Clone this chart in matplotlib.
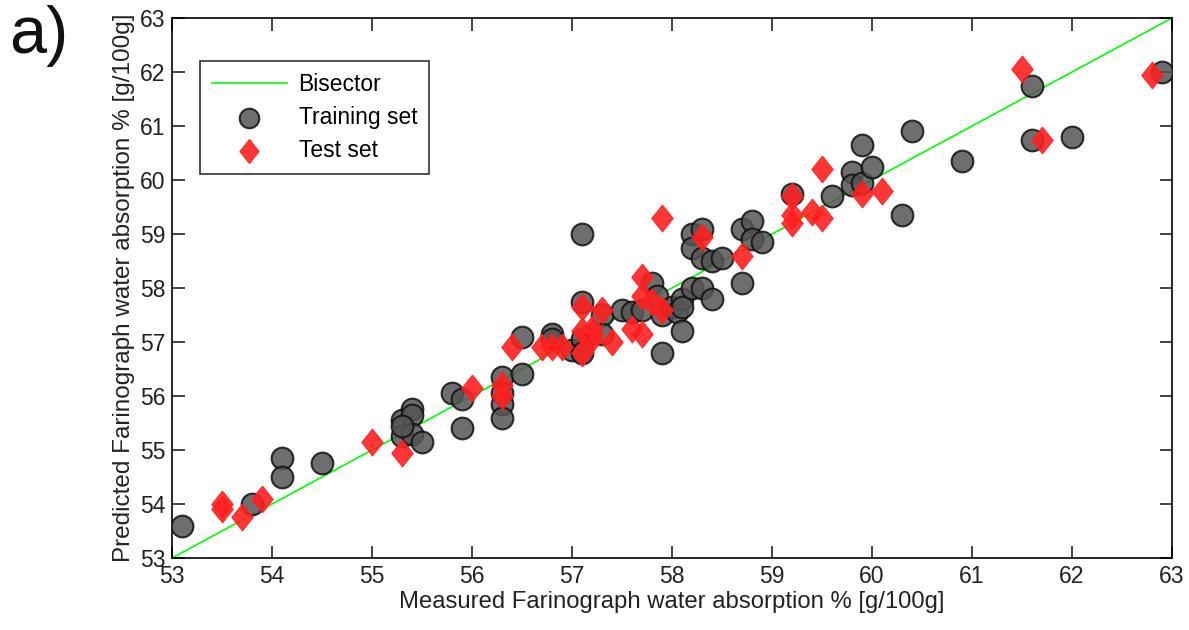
"""Measured vs predicted Farinograph water absorption (panel a)."""

import matplotlib

matplotlib.use("Agg")
import matplotlib.pyplot as plt

# Training set (measured, predicted)
train_measured = [
    53.1, 53.8, 54.1, 54.1, 54.5,
    55.3, 55.3, 55.4, 55.4, 55.4, 55.5, 55.3,
    55.8, 55.9, 55.9,
    56.3, 56.3, 56.3, 56.3,
    56.5, 56.5,
    56.8, 56.8,
    57.0,
    57.1, 57.1, 57.1, 57.1,
    57.3, 57.3,
    57.5, 57.6, 57.7,
    57.8, 57.85, 57.9, 58.0, 58.05, 57.9,
    58.1, 58.1, 58.1,
    58.2, 58.3, 58.2, 58.3, 58.4, 58.5,
    58.2, 58.3, 58.4,
    58.7, 58.8, 58.8, 58.9, 58.7,
    59.2, 59.6,
    59.8, 59.8, 59.9, 59.9, 60.0,
    60.3, 60.4, 60.9,
    61.6, 61.6, 62.0, 62.9,
]
train_predicted = [
    53.6, 54.0, 54.85, 54.5, 54.75,
    55.55, 55.25, 55.75, 55.65, 55.3, 55.15, 55.45,
    56.05, 55.95, 55.4,
    56.35, 56.05, 55.85, 55.6,
    57.1, 56.4,
    57.15, 57.05,
    56.85,
    59.0, 57.75, 57.05, 56.8,
    57.5, 57.15,
    57.6, 57.55, 57.6,
    58.1, 57.85, 57.5, 57.65, 57.55, 56.8,
    57.8, 57.65, 57.2,
    59.0, 59.1, 58.75, 58.55, 58.5, 58.55,
    58.0, 58.0, 57.8,
    59.1, 59.25, 58.9, 58.85, 58.1,
    59.75, 59.7,
    60.15, 59.9, 59.95, 60.65, 60.25,
    59.35, 60.9, 60.35,
    61.75, 60.75, 60.8, 62.0,
]

# Test set (measured, predicted)
test_measured = [
    53.5, 53.5, 53.7, 53.9,
    55.0, 55.3,
    56.0, 56.3, 56.3,
    56.4, 56.7, 56.8, 56.9,
    57.1, 57.3, 57.1, 57.2, 57.2, 57.2, 57.1, 57.4,
    57.6, 57.7,
    57.7, 57.7, 57.8, 57.9,
    57.9, 58.3, 58.7,
    59.2, 59.2, 59.2, 59.4, 59.5, 59.5,
    59.9, 60.1,
    61.5, 61.7, 62.8,
]
test_predicted = [
    54.0, 53.9, 53.75, 54.1,
    55.15, 54.95,
    56.15, 56.2, 56.0,
    56.9, 56.9, 56.9, 56.9,
    57.65, 57.6, 57.2, 57.25, 57.15, 57.05, 56.8, 57.0,
    57.25, 57.15,
    58.2, 57.85, 57.75, 57.6,
    59.3, 58.95, 58.6,
    59.7, 59.35, 59.2, 59.4, 59.3, 60.2,
    59.75, 59.8,
    62.05, 60.75, 61.95,
]

bisector = [53, 63]
ticks = list(range(53, 64))

FONT = ["Liberation Sans", "DejaVu Sans"]
TEXT_COLOR = "#222222"

# diamond a little wider than matplotlib's thin 'd'
DIAMOND = [(0, 1), (0.8, 0), (0, -1), (-0.8, 0), (0, 1)]


def main() -> None:
    plt.rcParams.update(
        {
            "font.family": FONT,
            "font.size": 16,
            "axes.linewidth": 1.2,
        }
    )

    fig = plt.figure(figsize=(11.89, 6.3), dpi=100)
    ax = fig.add_axes([0.1447, 0.1143, 0.8410, 0.8571])

    ax.plot(bisector, bisector, color="#00ff00", linewidth=1.2, label="Bisector", zorder=2)
    ax.scatter(
        train_measured,
        train_predicted,
        s=245,
        marker="o",
        facecolor="#555555",
        edgecolor="#111111",
        linewidth=1.5,
        alpha=0.85,
        label="Training set",
        zorder=3,
    )
    ax.scatter(
        test_measured,
        test_predicted,
        s=370,
        marker=DIAMOND,
        facecolor="#ff2020",
        edgecolor="#ff2020",
        linewidth=0.8,
        alpha=0.9,
        label="Test set",
        zorder=4,
    )

    ax.set_xlim(53, 63)
    ax.set_ylim(53, 63)
    ax.set_xticks(ticks)
    ax.set_yticks(ticks)
    ax.tick_params(
        direction="in", length=9, width=1.2, top=True, right=True,
        labelsize=16.5, pad=5, colors=TEXT_COLOR,
    )
    ax.set_xlabel("Measured Farinograph water absorption % [g/100g]",
                  fontsize=17.2, color=TEXT_COLOR, labelpad=2)
    ax.set_ylabel("Predicted Farinograph water absorption % [g/100g]",
                  fontsize=17.5, color=TEXT_COLOR, labelpad=3)

    leg = ax.legend(
        loc="upper left",
        bbox_to_anchor=(0.028, 0.92),
        borderaxespad=0,
        fontsize=16.5,
        frameon=True,
        fancybox=False,
        edgecolor="black",
        handlelength=3.3,
        handletextpad=0.5,
        borderpad=0.5,
        labelspacing=0.45,
        scatterpoints=1,
        markerscale=0.9,
    )
    leg.get_frame().set_linewidth(1.2)

    fig.text(0.008, 0.992, "a)", fontsize=48, ha="left", va="top", color="#111111")

    fig.savefig("out.png", dpi=100, facecolor="white")
    plt.close(fig)


if __name__ == "__main__":
    main()
